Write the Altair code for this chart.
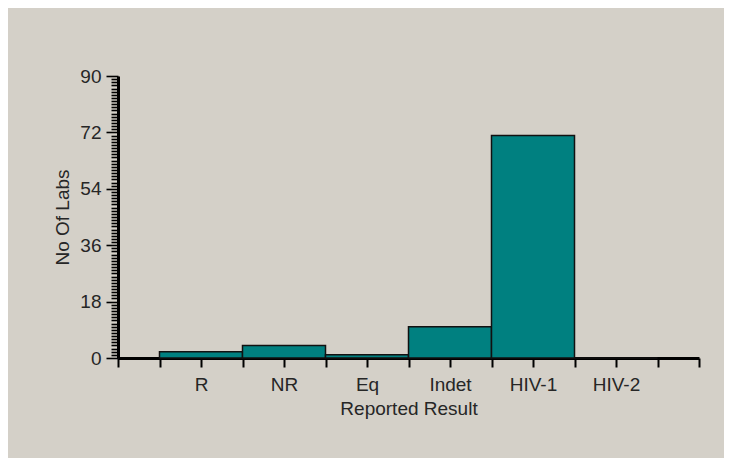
import json
import altair as alt
import pandas as pd

categories = ["R", "NR", "Eq", "Indet", "HIV-1", "HIV-2"]
labs = [2, 4, 1, 10, 71, 0]
y_tick_values = list(range(0, 91))
x_tick_values = [i * 0.5 for i in range(0, 15)]

df = pd.DataFrame({"idx": list(range(1, len(categories) + 1)),
                   "cat": categories, "labs": labs})

label_expr = ("(datum.value % 1 === 0 && datum.value >= 1 && datum.value <= "
              + str(len(categories)) + ") ? " + json.dumps(categories)
              + "[datum.value - 1] : ''")

FONT = "Liberation Sans"
TXT = "#262626"
FS = 19

bars = alt.Chart(df).transform_calculate(
    x0="datum.idx - 0.5", x1="datum.idx + 0.5"
).mark_rect(color="#008080", stroke="#111111", strokeWidth=1.5).encode(
    x=alt.X("x0:Q", scale=alt.Scale(domain=[0, 7], nice=False, zero=False),
            axis=alt.Axis(values=x_tick_values, labelExpr=label_expr,
                          title="Reported Result", grid=False,
                          tickSize=9, tickWidth=2, tickColor="#000000",
                          domainColor="#000000", domainWidth=3,
                          labelPadding=8, labelFontSize=FS, labelFont=FONT,
                          labelColor=TXT, labelOverlap=False, labelFlush=False,
                          titleFont=FONT, titleFontSize=FS, titleFontWeight="normal",
                          titleColor=TXT, titlePadding=5)),
    x2="x1:Q",
    y=alt.Y("labs:Q", scale=alt.Scale(domain=[0, 90], nice=False),
            axis=alt.Axis(values=y_tick_values,
                          labelExpr="datum.value % 18 === 0 ? datum.label : ''",
                          title="No Of Labs", grid=False,
                          tickSize={"condition": {"test": "datum.value % 18 === 0", "value": 12}, "value": 7},
                          tickWidth=1.6, tickColor="#000000",
                          domainColor="#000000", domainWidth=3,
                          labelPadding=5, labelFontSize=FS, labelFont=FONT,
                          labelColor=TXT, labelOverlap=False, labelFlush=False,
                          titleFont=FONT, titleFontSize=FS, titleFontWeight="normal",
                          titleColor=TXT, titlePadding=7)),
    y2=alt.datum(0),
)

chart = bars.properties(
    width=581, height=282,
    padding={"left": 110, "top": 68, "right": 25, "bottom": 100},
    autosize=alt.AutoSizeParams(type="none"),
    background="#D4D0C8",
).configure_view(stroke=None)

chart.save("out.html", embed_options={"renderer": "svg", "actions": False})
